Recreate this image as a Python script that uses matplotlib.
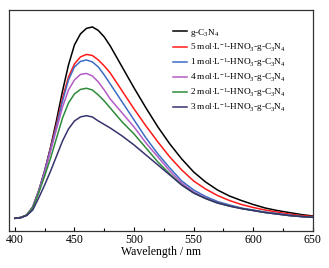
import numpy as np
import matplotlib
matplotlib.use('Agg')
import matplotlib.pyplot as plt

plt.rcParams['font.family'] = ['Liberation Serif', 'DejaVu Serif']
plt.rcParams['mathtext.fontset'] = 'custom'
plt.rcParams['mathtext.rm'] = 'Liberation Serif'
plt.rcParams['mathtext.it'] = 'Liberation Serif:italic'

# wavelengths (nm) at which the curves were read
wl = [400, 405, 410, 415, 420, 425, 430, 435, 440, 445, 450, 455, 460, 465, 470,
      475, 480, 490, 500, 510, 520, 530, 540, 550, 560, 570, 580, 590, 600, 610,
      620, 630, 640, 650]

# PL intensity (a.u.)
g_c3n4 = [12.7, 13.5, 16, 24, 40, 60, 84, 111, 140, 166, 186, 197, 202.5, 204, 200.5,
          194, 185, 164, 143, 123, 104, 87, 72, 59, 49, 41, 35, 30.5, 26.5, 23,
          20.5, 18.5, 16.5, 15]
hno3_5 = [12.7, 13.5, 16, 24, 40, 60, 83, 107, 133, 154, 167, 174, 176.5, 175.5, 171,
          165, 158, 140, 122, 105, 89, 74, 61, 50, 42, 35.5, 30.5, 26.5, 23.5, 21,
          19, 17, 15.5, 14.5]
hno3_1 = [12.7, 13.5, 16, 24, 40, 60, 82, 105, 130, 151, 164, 169.5, 171, 169, 164,
          156, 147, 129, 111, 93, 77, 63, 50, 41, 34.5, 29.5, 26, 23, 21, 19,
          17.5, 16, 14.5, 13.7]
hno3_4 = [12.7, 13.5, 16, 23.5, 39, 58, 80, 102, 124, 141, 151, 156.5, 157.5, 155, 149,
          141, 132, 118, 104, 88, 74, 60, 48, 39, 33, 28.5, 25, 22.5, 20.5, 18.5,
          17, 15.5, 14.5, 13.7]
hno3_2 = [12.7, 13.5, 16, 23, 38, 55, 73, 93, 113, 128, 137, 141.5, 142.7, 141, 136,
          130, 123, 109, 97, 83, 69, 57, 46, 38, 32.5, 28, 25, 22.5, 20.5, 18.5,
          17, 15.5, 14.5, 13.7]
hno3_3 = [12.7, 13.3, 15.5, 21, 33, 46, 60, 75, 90, 102, 110, 114, 115.3, 114, 110,
          106.5, 103, 95, 86, 76, 66, 56, 46, 38, 32.5, 28, 25, 22.5, 20.5, 18.5,
          17, 15.5, 14.5, 13.7]

labels = [r'g-C$_3$N$_4$',
          r'5 mol$\cdot$L$^{-1}$-HNO$_3$-g-C$_3$N$_4$',
          r'1 mol$\cdot$L$^{-1}$-HNO$_3$-g-C$_3$N$_4$',
          r'4 mol$\cdot$L$^{-1}$-HNO$_3$-g-C$_3$N$_4$',
          r'2 mol$\cdot$L$^{-1}$-HNO$_3$-g-C$_3$N$_4$',
          r'3 mol$\cdot$L$^{-1}$-HNO$_3$-g-C$_3$N$_4$']
colors = ['#000000', '#ff1a1a', '#3c6cc4', '#b35cc4', '#2e8a3c', '#36336e']
series = [g_c3n4, hno3_5, hno3_1, hno3_4, hno3_2, hno3_3]

fig = plt.figure(figsize=(3.29, 2.68), dpi=100)
ax = fig.add_axes([0.027, 0.138, 0.924, 0.825])
for y, c, lab in zip(series, colors, labels):
    ax.plot(wl, y, color=c, lw=1.1, label=lab)

ax.set_xlim(395, 650)
ax.set_ylim(0, 221)
ax.set_yticks([])
ax.set_xticks([400, 450, 500, 550, 600, 650])
ax.set_xticks([425, 475, 525, 575, 625], minor=True)
ax.tick_params(axis='x', direction='in', labelsize=8.5, length=3, width=0.8, pad=2)
ax.tick_params(axis='x', which='minor', direction='in', length=2, width=0.8)
for s in ax.spines.values():
    s.set_linewidth(0.9)
    s.set_color('#333333')
ax.set_xlabel('Wavelength / nm', fontsize=8.5, labelpad=0)

ax.legend(loc='upper left', bbox_to_anchor=(0.525, 0.945), frameon=False, fontsize=6.7,
          handlelength=1.5, handletextpad=0.35, labelspacing=0.22, borderpad=0)

plt.savefig('out.png', dpi=100)
